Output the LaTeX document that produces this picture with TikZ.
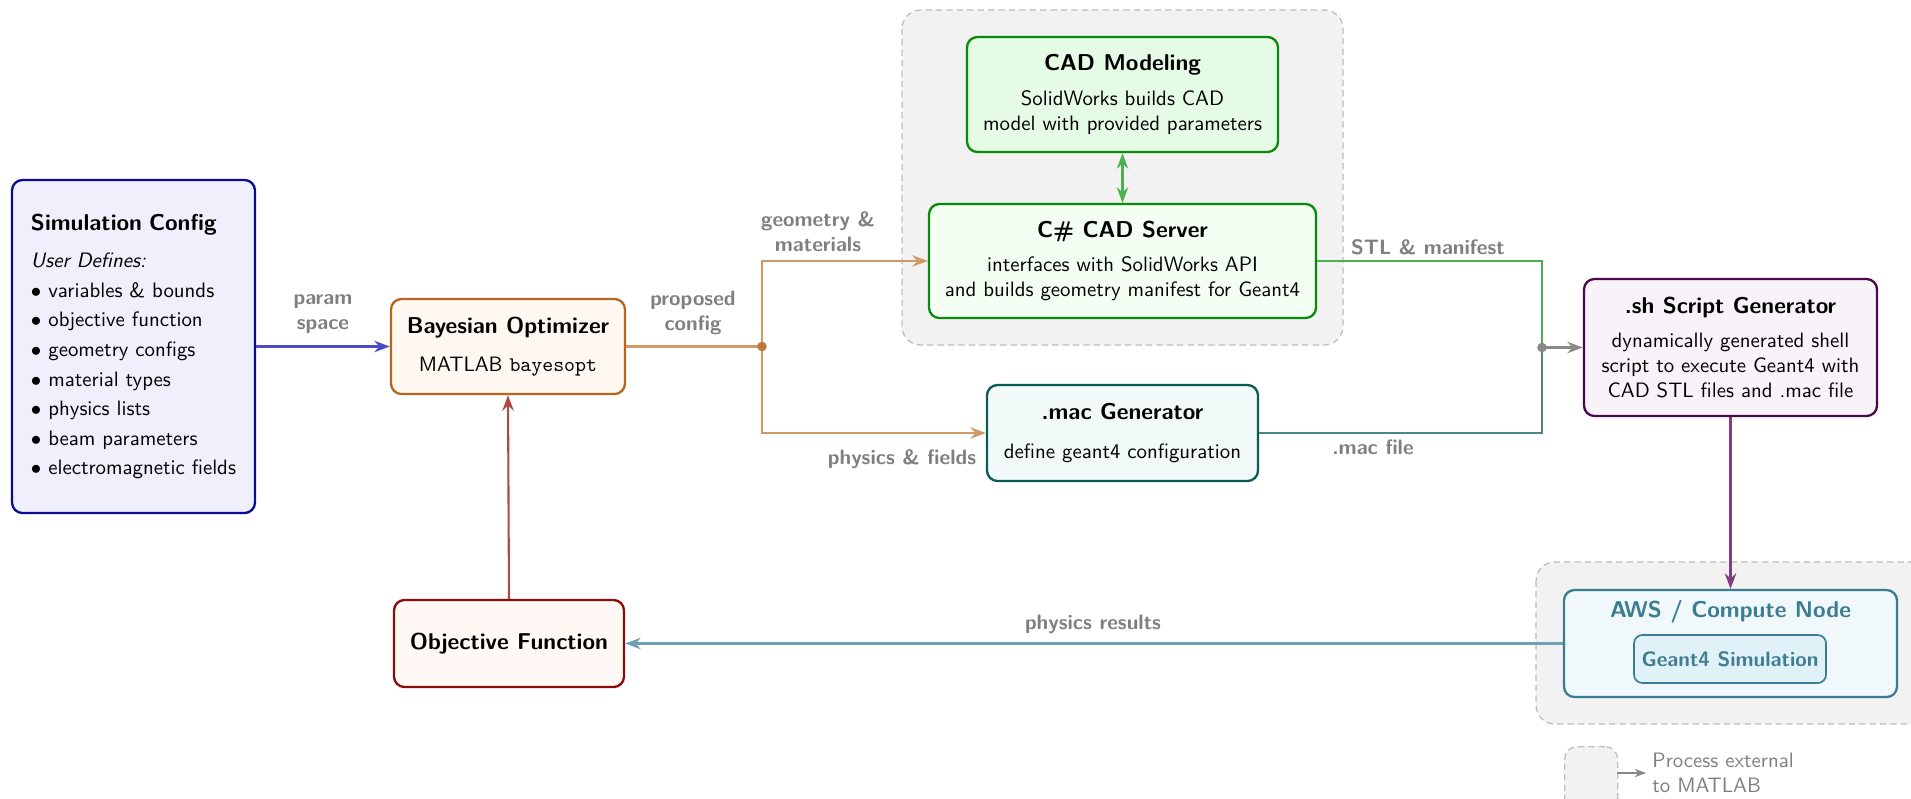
\documentclass[tikz,border=0pt]{standalone}
\usetikzlibrary{arrows.meta,calc}
\renewcommand{\familydefault}{\sfdefault}
\definecolor{simB}{HTML}{0A0A9A}
\definecolor{simF}{HTML}{F0F0FC}
\definecolor{simA}{HTML}{4B4BC8}
\definecolor{bayB}{HTML}{B5651D}
\definecolor{bayF}{HTML}{FFF8F0}
\definecolor{bayA}{HTML}{CF9A68}
\definecolor{bayD}{HTML}{BF7838}
\definecolor{cadB}{HTML}{0A8A0A}
\definecolor{cadF}{HTML}{E6FBE6}
\definecolor{srvF}{HTML}{F3FFF3}
\definecolor{cadA}{HTML}{4CAF50}
\definecolor{macB}{HTML}{0B5A55}
\definecolor{macF}{HTML}{F2F9F9}
\definecolor{macA}{HTML}{4E8585}
\definecolor{shB}{HTML}{4A0A4A}
\definecolor{shF}{HTML}{F8F3F9}
\definecolor{shA}{HTML}{7E3F7E}
\definecolor{awsB}{HTML}{3A7D93}
\definecolor{awsF}{HTML}{F0F8FC}
\definecolor{gFill}{HTML}{E0F1F8}
\definecolor{resA}{HTML}{6FA0B5}
\definecolor{objB}{HTML}{8B0A0A}
\definecolor{objF}{HTML}{FFF8F4}
\definecolor{objA}{HTML}{B04848}
\definecolor{grpF}{HTML}{F2F2F2}
\definecolor{grpB}{HTML}{BDBDBD}
\definecolor{lblC}{HTML}{7F7F7F}
\definecolor{jGray}{HTML}{888888}
\newcommand{\ttlfont}{\fontsize{11}{13.6}\selectfont\bfseries}
\begin{document}
\begin{tikzpicture}[x=0.48pt,y=-0.48pt,
  box/.style={draw, rounded corners=5pt, line width=1.1pt, align=center, inner sep=0pt},
  grp/.style={draw=grpB, fill=grpF, dash pattern=on 3pt off 2pt, rounded corners=9pt, line width=0.6pt},
  lbl/.style={text=lblC, font=\bfseries, align=center, inner sep=0pt},
  arr/.style={-{Stealth[length=7.5pt,width=5.5pt,inset=2.5pt]}, line width=1pt},
  jdot/.style={circle, fill, inner sep=0pt, minimum size=4.6pt}
]
\useasboundingbox (0,0) rectangle (1911,798);
\clip (0,0) rectangle (1911,798);
\fill[white] (0,0) rectangle (1911,798);
% groups
\path[grp] (902,10) rectangle (1343,345);
\path[grp] (1536,562) rectangle (1970,724);

% nodes
\node[box, draw=simB, fill=simF, align=left, text width=98.4pt, inner xsep=9.12pt,
      minimum height=159.84pt] (sim) at (133.5,346.5)
  {{\ttlfont Simulation Config}\\[6pt]
   \textit{User Defines:}\\[2.2pt]
   $\bullet$ variables \& bounds\\[2.2pt]
   $\bullet$ objective function\\[2.2pt]
   $\bullet$ geometry configs\\[2.2pt]
   $\bullet$ material types\\[2.2pt]
   $\bullet$ physics lists\\[2.2pt]
   $\bullet$ beam parameters\\[2.2pt]
   $\bullet$ electromagnetic fields};

\node[box, draw=bayB, fill=bayF, minimum width=112.32pt, minimum height=45.6pt] (bay) at (508,346.5)
  {{\ttlfont Bayesian Optimizer}\\[6.5pt] MATLAB \texttt{bayesopt}};

\node[box, draw=cadB, fill=cadF, minimum width=149.28pt, minimum height=55.2pt] (cadmod) at (1122.5,94.5)
  {{\ttlfont CAD Modeling}\\[4.5pt] SolidWorks builds CAD\\ model with provided parameters};

\node[box, draw=cadB, fill=srvF, minimum width=185.76pt, minimum height=54.72pt] (srv) at (1122.5,261)
  {{\ttlfont C\# CAD Server}\\[4.5pt] interfaces with SolidWorks API\\ and builds geometry manifest for Geant4};

\node[box, draw=macB, fill=macF, minimum width=130.08pt, minimum height=46.08pt] (mac) at (1122.5,433)
  {{\ttlfont .mac Generator}\\[6.5pt] define geant4 configuration};

\node[box, draw=shB, fill=shF, minimum width=140.64pt, minimum height=65.76pt] (sh) at (1730.5,347.5)
  {{\ttlfont .sh Script Generator}\\[4.5pt] dynamically generated shell\\ script to execute Geant4 with\\ CAD STL files and .mac file};

\node[box, draw=awsB, fill=awsF, minimum width=159.84pt, minimum height=51.36pt] (aws) at (1730.5,643.5) {};
\node[font=\ttlfont, text=awsB, anchor=base] (awst) at (1730.5,617) {AWS / Compute Node};
\node[box, draw=awsB, fill=gFill, line width=0.8pt, rounded corners=4pt, minimum width=92.16pt,
      minimum height=23.04pt, text=awsB!90!gray, font=\bfseries] (g4) at (1730,659) {Geant4 Simulation};

\node[box, draw=objB, fill=objF, minimum width=110.4pt, minimum height=41.76pt, font=\ttlfont] (obj) at (509,643.5)
  {Objective Function};

% junctions
\coordinate (j1) at (762,346.5);
\coordinate (j2) at (1542,347.5);

% connectors
\draw[arr, simA] (sim.east) -- (bay.west);
\draw[bayA, line width=1pt] (bay.east) -- (j1);
\draw[arr, bayA] (j1) |- (srv.west);
\draw[arr, bayA] (j1) |- (mac.west);
\draw[cadA, line width=1pt] (srv.east) -| (j2);
\draw[macA, line width=1pt] (mac.east) -| (j2);
\draw[arr, jGray] (j2) -- (sh.west);
\draw[arr, shA] (sh.south) -- (aws.north);
\draw[arr, resA] (aws.west) -- (obj.east);
\draw[arr, objA] (obj.north) -- (bay.south);
\draw[{Stealth[length=7.5pt,width=5.5pt,inset=2.5pt]}-{Stealth[length=7.5pt,width=5.5pt,inset=2.5pt]}, line width=1pt, cadA]
  (cadmod.south) -- (srv.north);
\node[jdot, bayD] at (j1) {};
\node[jdot, jGray] at (j2) {};

% labels
\node[lbl] (l1) at (323,314) {param\\space};
\node[lbl] (l2) at (693,313) {proposed\\config};
\node[lbl] (l3) at (818,232) {geometry \&\\materials};
\node[lbl] (l4) at (902,459) {physics \& fields};
\node[lbl] (l5) at (1428,247) {STL \& manifest};
\node[lbl] (l6) at (1373,447) {.mac file};
\node[lbl] (l7) at (1093,624) {physics results};

% legend
\node[draw=grpB, fill=grpF, dash pattern=on 3pt off 2pt, rounded corners=6pt, line width=0.6pt,
      minimum width=25.44pt, minimum height=31.68pt, inner sep=0pt, anchor=north west] (legbox) at (1564,746) {};
\coordinate (legA) at (1617,773);
\coordinate (legB) at (1646,773);
\draw[-{Stealth[length=5.5pt,width=4pt,inset=1.8pt]}, line width=0.7pt, jGray] (legA) -- (legB);
\node[anchor=west, text=lblC, align=left, inner sep=0pt] (legt) at (1652,773) {Process external\\to MATLAB};
\end{tikzpicture}
\end{document}
